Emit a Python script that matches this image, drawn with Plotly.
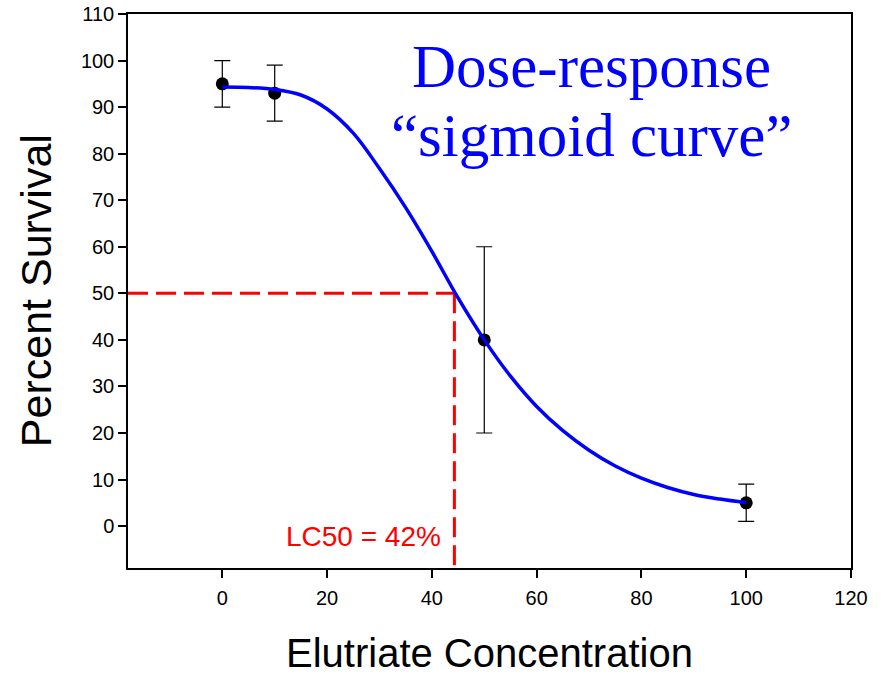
import plotly.graph_objects as go

# Observed data
conc = [0, 10, 50, 100]
survival = [95, 93, 40, 5]
err = [5, 6, 20, 4]

# Fitted sigmoid curve
curve_x = [0, 5, 10, 15, 20, 25, 30, 35, 40, 45, 50, 55, 60, 65, 70, 75, 80, 85, 90, 95, 100]
curve_y = [94.3, 94.2, 93.8, 92.6, 89.6, 84.4, 76.8, 68.4, 59.0, 49.0, 40.0, 32.2, 25.7,
           20.5, 16.3, 12.9, 10.3, 8.3, 6.8, 5.8, 5.0]

# LC50 guide
lc50_x = 44.3
lc50_y = 50

x_ticks = [0, 20, 40, 60, 80, 100, 120]
y_ticks = [0, 10, 20, 30, 40, 50, 60, 70, 80, 90, 100, 110]
x_range = [-18, 120]
y_range = [-9, 110]

RED = "#FF0000"
BLUE = "#0000FF"
SANS = "Liberation Sans, Arial, sans-serif"
SERIF = "Liberation Serif, Times New Roman, serif"

fig = go.Figure()

# dashed LC50 guides
fig.add_trace(go.Scatter(x=[x_range[0], lc50_x], y=[lc50_y, lc50_y], mode="lines",
                         line=dict(color=RED, width=3, dash="20px,8px"),
                         hoverinfo="skip", showlegend=False))
fig.add_trace(go.Scatter(x=[lc50_x, lc50_x], y=[lc50_y, y_range[0]], mode="lines",
                         line=dict(color=RED, width=3, dash="20px,8px"),
                         hoverinfo="skip", showlegend=False))

# data with error bars
fig.add_trace(go.Scatter(x=conc, y=survival, mode="markers",
                         marker=dict(color="black", size=13),
                         error_y=dict(type="data", array=err, visible=True,
                                      color="black", thickness=1.2, width=8),
                         showlegend=False))

# fitted curve
fig.add_trace(go.Scatter(x=curve_x, y=curve_y, mode="lines",
                         line=dict(color=BLUE, width=3.5, shape="spline", smoothing=1.0),
                         showlegend=False))

axis_common = dict(showline=True, linecolor="black", linewidth=1.5, mirror=True,
                   ticks="outside", ticklen=8, tickwidth=1.5, tickcolor="black",
                   showgrid=False, zeroline=False, automargin=False,
                   tickfont=dict(family=SANS, size=20, color="black"))

fig.update_xaxes(range=x_range, tickvals=x_ticks, ticklabelstandoff=3, **axis_common)
fig.update_yaxes(range=y_range, tickvals=y_ticks, **axis_common)

annotations = [
    dict(text="Dose-response", x=70.4, y=98.7, xref="x", yref="y",
         xanchor="center", yanchor="middle", showarrow=False,
         font=dict(family=SERIF, size=61, color=BLUE)),
    dict(text="\u201csigmoid curve\u201d", x=70.4, y=84.0, xref="x", yref="y",
         xanchor="center", yanchor="middle", showarrow=False,
         font=dict(family=SERIF, size=61, color=BLUE)),
    dict(text="LC50 = 42%", x=42.1, y=-2.2, xref="x", yref="y",
         xanchor="right", yanchor="middle", showarrow=False,
         font=dict(family=SANS, size=28, color=RED)),
    dict(text="Percent Survival", x=-0.127, y=0.5, xref="paper", yref="paper",
         xanchor="center", yanchor="middle", textangle=-90, showarrow=False,
         font=dict(family=SANS, size=43, color="black")),
    dict(text="Elutriate Concentration", x=0.5, y=-0.153, xref="paper", yref="paper",
         xanchor="center", yanchor="middle", showarrow=False,
         font=dict(family=SANS, size=40, color="black")),
]

fig.update_layout(width=885, height=674,
                  margin=dict(l=128, r=34, t=14, b=106, autoexpand=False),
                  paper_bgcolor="white", plot_bgcolor="white",
                  annotations=annotations, showlegend=False)

fig.write_html("out.html", config={"displayModeBar": False},
               post_script="document.body.style.margin='0px';document.body.style.padding='0px';")
